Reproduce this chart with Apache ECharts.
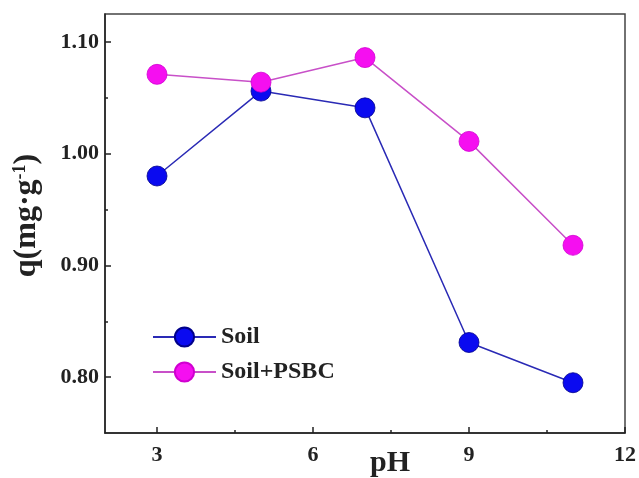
<!DOCTYPE html>
<html>
<head>
<meta charset="utf-8">
<script src="https://cdn.jsdelivr.net/npm/echarts@6/dist/echarts.min.js"></script>
<style>html,body{margin:0;padding:0;background:#fff}#c{width:639px;height:478px}</style>
</head>
<body>
<div id="c"></div>
<script>
const phValues = [3, 5, 7, 9, 11];
const soil = [0.980, 1.056, 1.041, 0.831, 0.795];
const soilPSBC = [1.071, 1.064, 1.086, 1.011, 0.918];
const seriesNames = ['Soil', 'Soil+PSBC'];
const xMajor = [3, 6, 9, 12];
const xMinor = [4.5, 7.5, 10.5];
const yMajor = [0.80, 0.90, 1.00, 1.10];
const yMinor = [0.85, 0.95, 1.05];

const font = 'Liberation Serif';
const chart = echarts.init(document.getElementById('c'));
const pairs = arr => phValues.map((x, i) => [x, arr[i]]);
const labelStyle = {fontFamily: font, fontWeight: 'bold', fontSize: 22, color: '#222'};

chart.setOption({
  animation: false,
  grid: {left: 105, top: 14, right: 14, bottom: 45, outerBoundsMode: 'none', containLabel: false,
         show: true, borderColor: '#444', borderWidth: 1.5, backgroundColor: 'transparent'},
  legend: {
    orient: 'vertical', left: 147, top: 320, itemWidth: 63, itemHeight: 24, itemGap: 11,
    textStyle: {fontFamily: font, fontWeight: 'bold', fontSize: 24, color: '#222'},
    data: seriesNames
  },
  xAxis: [{
    type: 'value', min: 2, max: 12,
    name: 'pH', nameLocation: 'middle', nameGap: 15, nameMoveOverlap: false,
    nameTextStyle: {fontFamily: font, fontWeight: 'bold', fontSize: 30, color: '#222', padding: [0, 0, 0, 50]},
    axisLine: {lineStyle: {color: '#222', width: 1.5}},
    axisTick: {inside: true, length: 6, customValues: xMajor, lineStyle: {color: '#222', width: 1.5}},
    axisLabel: Object.assign({customValues: xMajor, margin: 11, showMaxLabel: true}, labelStyle),
    splitLine: {show: false}
  }, {
    type: 'value', min: 2, max: 12, position: 'bottom',
    axisLine: {show: false},
    axisTick: {inside: true, length: 3, customValues: xMinor, lineStyle: {color: '#222', width: 1.5}},
    axisLabel: {show: false}, splitLine: {show: false}
  }],
  yAxis: [{
    type: 'value', min: 0.75, max: 1.125,
    name: '{a|q(mg·g}{s|-1}{a|)}', nameLocation: 'middle', nameGap: 62, nameRotate: 90, nameMoveOverlap: false,
    nameTextStyle: {
      padding: [0, 0, 0, 16],
      rich: {
        a: {fontFamily: font, fontWeight: 'bold', fontSize: 32, color: '#222'},
        s: {fontFamily: font, fontWeight: 'bold', fontSize: 18, color: '#222', verticalAlign: 'top', lineHeight: 22}
      }
    },
    axisLine: {lineStyle: {color: '#222', width: 1.5}},
    axisTick: {inside: true, length: 6, customValues: yMajor, lineStyle: {color: '#222', width: 1.5}},
    axisLabel: Object.assign({customValues: yMajor, margin: 6, formatter: v => v.toFixed(2)}, labelStyle),
    splitLine: {show: false}
  }, {
    type: 'value', min: 0.75, max: 1.125, position: 'left',
    axisLine: {show: false},
    axisTick: {inside: true, length: 3, customValues: yMinor, lineStyle: {color: '#222', width: 1.5}},
    axisLabel: {show: false}, splitLine: {show: false}
  }],
  series: [{
    name: seriesNames[0], type: 'line', data: pairs(soil),
    symbol: 'circle', symbolSize: 20,
    itemStyle: {color: '#0a0af0', borderColor: '#00008a', borderWidth: 0.8},
    lineStyle: {color: '#2a2ab5', width: 1.5}
  }, {
    name: seriesNames[1], type: 'line', data: pairs(soilPSBC),
    symbol: 'circle', symbolSize: 20,
    itemStyle: {color: '#f50ff0', borderColor: '#d000d0', borderWidth: 0.8},
    lineStyle: {color: '#c850c8', width: 1.5}
  }]
});
</script>
</body>
</html>
